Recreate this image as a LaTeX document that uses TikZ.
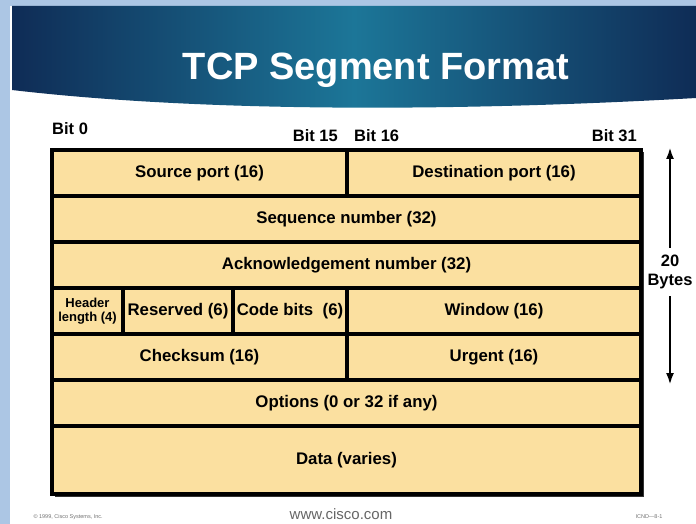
\documentclass[tikz,border=0pt]{standalone}
\usepackage{fontspec}
\setmainfont{Liberation Sans}
\usetikzlibrary{positioning,arrows.meta,shadows}

\definecolor{cellfill}{RGB}{251,224,160}
\definecolor{slidenavy}{RGB}{15,44,86}
\definecolor{slideteal}{RGB}{28,118,152}
\definecolor{frameblue}{RGB}{172,198,228}

\begin{document}
\begin{tikzpicture}[x=1pt, y=-1pt, >={Latex[length=12pt,width=8pt]},
  field/.style={draw, line width=3.2pt, fill=cellfill, inner sep=0pt, outer sep=0pt,
    minimum height=46pt, font=\bfseries\fontsize{16.8}{19}\selectfont,
    drop shadow={shadow xshift=2.5pt, shadow yshift=-2.5pt, fill=black!80, opacity=1}},
  bitlbl/.style={font=\bfseries\fontsize{16.5}{19}\selectfont, inner sep=0pt},
  footlbl/.style={font=\fontsize{5.5}{6}\selectfont, text=black!55, anchor=base west}]
  \useasboundingbox (0,0) rectangle (696,524);
  \fill[white] (0,0) rectangle (696,524);
  \fill[frameblue] (0,0) rectangle (10,524);
  \fill[frameblue] (0,0) rectangle (696,6);
  % title band
  \shade[left color=slidenavy, right color=slidenavy, middle color=slideteal]
    (12,6) -- (696,6) -- (696,98) .. controls (450,112) and (200,112) .. (12,90) -- cycle;
  \node[font=\bfseries\fontsize{38}{40}\selectfont, text=white, anchor=base] (title) at (376,80) {TCP Segment Format};

  \node[bitlbl, anchor=base west] (bit0) at (52,135) {Bit 0};
  \node[bitlbl, anchor=base east] (bit15) at (338,142) {Bit 15};
  \node[bitlbl, anchor=base west] (bit16) at (354,142) {Bit 16};
  \node[bitlbl, anchor=base east] (bit31) at (637,142) {Bit 31};

  % header fields
  \node[field, minimum width=295pt, anchor=north west] (src) at (52,150) {Source port (16)};
  \node[field, minimum width=294pt, right=0pt of src] (dst) {Destination port (16)};
  \node[field, minimum width=589pt, below=0pt of src.south west, anchor=north west] (seq) {Sequence number (32)};
  \node[field, minimum width=589pt, below=0pt of seq.south west, anchor=north west] (ack) {Acknowledgement number (32)};
  \node[field, minimum width=71pt, below=0pt of ack.south west, anchor=north west, align=center,
    font=\bfseries\fontsize{13}{14}\selectfont] (hlen) {Header\\length (4)};
  \node[field, minimum width=110pt, right=0pt of hlen] (resv) {Reserved (6)};
  \node[field, minimum width=114pt, right=0pt of resv] (code) {Code bits\ \ (6)};
  \node[field, minimum width=294pt, right=0pt of code] (win) {Window (16)};
  \node[field, minimum width=295pt, below=0pt of hlen.south west, anchor=north west] (chk) {Checksum (16)};
  \node[field, minimum width=294pt, right=0pt of chk] (urg) {Urgent (16)};
  \node[field, minimum width=589pt, below=0pt of chk.south west, anchor=north west] (opt) {Options (0 or 32 if any)};
  \node[field, minimum width=589pt, minimum height=68pt, below=0pt of opt.south west, anchor=north west] (data) {Data (varies)};

  % header size
  \node[bitlbl, align=center, inner sep=7pt] (bytes) at (670,272) {20\\Bytes};
  \coordinate (hdrtop) at (670,147);
  \coordinate (hdrbot) at (670,385);
  \draw[->, line width=2.4pt] (bytes) -- (hdrtop);
  \draw[->, line width=2.4pt] (bytes) -- (hdrbot);

  \node[footlbl] (copy) at (30,518) {© 1999, Cisco Systems, Inc.};
  \node[font=\fontsize{15}{16}\selectfont, text=black!60, anchor=base] (web) at (341,519) {www.cisco.com};
  \node[footlbl] (icnd) at (632,518) {ICND—8-1};
\end{tikzpicture}
\end{document}
